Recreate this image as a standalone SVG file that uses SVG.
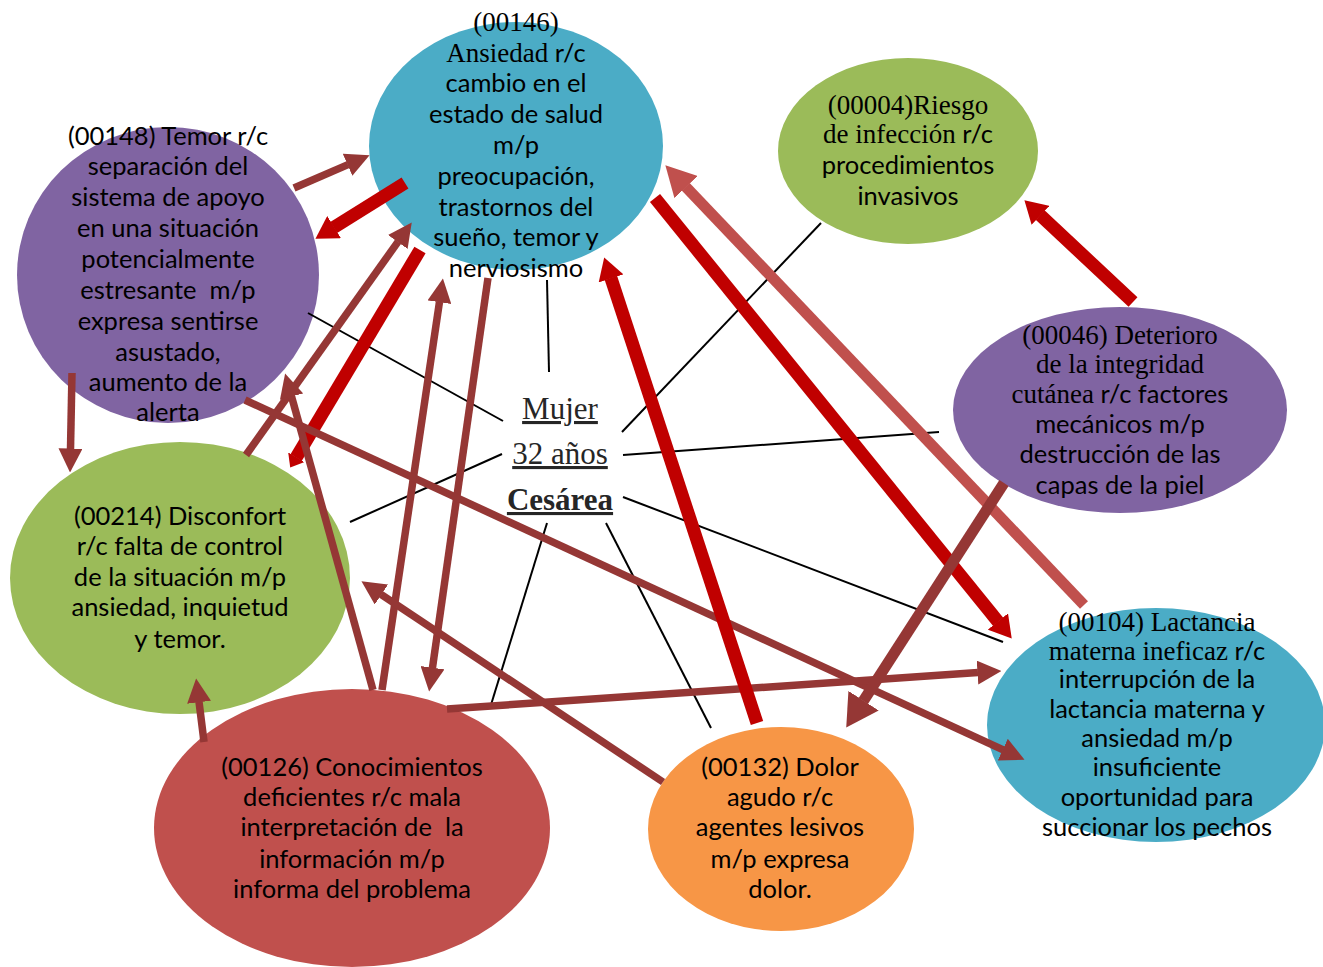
<svg xmlns="http://www.w3.org/2000/svg" width="1323" height="967" viewBox="0 0 1323 967">
<style>
.t{font-family:Lato,"Liberation Sans",sans-serif;font-size:25.5px;fill:#000;text-anchor:middle}
.sr{font-family:"Liberation Serif",serif;font-size:27px}
.c{font-family:"Liberation Serif",serif;font-size:31px;fill:#262626;text-anchor:middle;text-decoration:underline}
.br{stroke:#953735;stroke-width:7.5;fill:none;marker-end:url(#mBr)}
.rd{stroke:#C00000;stroke-width:13;fill:none;marker-end:url(#mRd)}
.rs{stroke:#C00000;stroke-width:13;fill:none;marker-end:url(#mRs)}
.lr{stroke:#C0504D;stroke-width:11;fill:none;marker-end:url(#mLr)}
.bw{stroke:#953735;stroke-width:11;fill:none;marker-end:url(#mBw)}
.bk{stroke:#000;stroke-width:2;fill:none}
</style>
<defs>
<marker id="mBr" markerUnits="userSpaceOnUse" viewBox="0 0 24 24" markerWidth="24" markerHeight="24" refX="0.5" refY="12" orient="auto"><path d="M0,0 L24,12 L0,24 z" fill="#953735"/></marker>
<marker id="mRd" markerUnits="userSpaceOnUse" viewBox="0 0 22 26" markerWidth="22" markerHeight="26" refX="0.5" refY="13" orient="auto"><path d="M0,0 L22,13 L0,26 z" fill="#C00000"/></marker>
<marker id="mRs" markerUnits="userSpaceOnUse" viewBox="0 0 12 19" markerWidth="12" markerHeight="19" refX="0.5" refY="9.5" orient="auto"><path d="M0,0 L12,9.5 L0,19 z" fill="#C00000"/></marker>
<marker id="mLr" markerUnits="userSpaceOnUse" viewBox="0 0 30 32" markerWidth="30" markerHeight="32" refX="0.5" refY="16" orient="auto"><path d="M0,0 L30,16 L0,32 z" fill="#C0504D"/></marker>
<marker id="mBw" markerUnits="userSpaceOnUse" viewBox="0 0 32 36" markerWidth="32" markerHeight="36" refX="0.5" refY="18" orient="auto"><path d="M0,0 L32,18 L0,36 z" fill="#953735"/></marker>
</defs>
<rect width="1323" height="967" fill="#fff"/>
<g id="n00146"><ellipse cx="516" cy="146" rx="147" ry="124" fill="#4BACC6"/>
<text class="t"><tspan x="516" y="31" class="sr" font-size="28">(00146)</tspan><tspan x="516" y="62"><tspan class="sr">Ansiedad</tspan> r/c</tspan><tspan x="516" y="92">cambio en el</tspan><tspan x="516" y="123">estado de salud</tspan><tspan x="516" y="154">m/p</tspan><tspan x="516" y="185">preocupación,</tspan><tspan x="516" y="216">trastornos del</tspan><tspan x="516" y="246">sueño, temor y</tspan><tspan x="516" y="277">nerviosismo</tspan></text></g>
<g id="n00148"><ellipse cx="168" cy="275" rx="151" ry="148" fill="#8064A2"/>
<text class="t" xml:space="preserve"><tspan x="168" y="145">(00148) Temor r/c</tspan><tspan x="168" y="175">separación del</tspan><tspan x="168" y="206">sistema de apoyo</tspan><tspan x="168" y="237">en una situación</tspan><tspan x="168" y="268">potencialmente</tspan><tspan x="168" y="299">estresante  m/p</tspan><tspan x="168" y="330">expresa sentirse</tspan><tspan x="168" y="361">asustado,</tspan><tspan x="168" y="391">aumento de la</tspan><tspan x="168" y="421">alerta</tspan></text></g>
<g id="n00004"><ellipse cx="908" cy="151" rx="130" ry="93" fill="#9BBB59"/>
<text class="t"><tspan x="908" y="114" class="sr">(00004)Riesgo</tspan><tspan x="908" y="143"><tspan class="sr">de infección</tspan> r/c</tspan><tspan x="908" y="174">procedimientos</tspan><tspan x="908" y="205">invasivos</tspan></text></g>
<g id="n00046"><ellipse cx="1120" cy="410" rx="167" ry="103" fill="#8064A2"/>
<text class="t"><tspan x="1120" y="344" class="sr">(00046) Deterioro</tspan><tspan x="1120" y="373" class="sr">de la integridad</tspan><tspan x="1120" y="403"><tspan class="sr">cutánea</tspan> r/c factores</tspan><tspan x="1120" y="433">mecánicos m/p</tspan><tspan x="1120" y="463">destrucción de las</tspan><tspan x="1120" y="494">capas de la piel</tspan></text></g>
<g id="n00214"><ellipse cx="180" cy="578" rx="170" ry="136" fill="#9BBB59"/>
<text class="t"><tspan x="180" y="525">(00214) Disconfort</tspan><tspan x="180" y="555">r/c falta de control</tspan><tspan x="180" y="586">de la situación m/p</tspan><tspan x="180" y="616">ansiedad, inquietud</tspan><tspan x="180" y="648">y temor.</tspan></text></g>
<g id="n00126"><ellipse cx="352" cy="828" rx="198" ry="139" fill="#C0504D"/>
<text class="t" xml:space="preserve"><tspan x="352" y="776">(00126) Conocimientos</tspan><tspan x="352" y="806">deficientes r/c mala</tspan><tspan x="352" y="836">interpretación de  la</tspan><tspan x="352" y="868">información m/p</tspan><tspan x="352" y="898">informa del problema</tspan></text></g>
<g id="n00132"><ellipse cx="781" cy="829" rx="133" ry="102" fill="#F79646"/>
<text class="t"><tspan x="780" y="776">(00132) Dolor</tspan><tspan x="780" y="806">agudo r/c</tspan><tspan x="780" y="836">agentes lesivos</tspan><tspan x="780" y="868">m/p expresa</tspan><tspan x="780" y="898">dolor.</tspan></text></g>
<g id="n00104"><ellipse cx="1156" cy="725" rx="169" ry="117" fill="#4BACC6"/>
<text class="t"><tspan x="1157" y="631" class="sr">(00104) Lactancia</tspan><tspan x="1157" y="660"><tspan class="sr">materna ineficaz</tspan> r/c</tspan><tspan x="1157" y="688">interrupción de la</tspan><tspan x="1157" y="718">lactancia materna y</tspan><tspan x="1157" y="747">ansiedad m/p</tspan><tspan x="1157" y="776">insuficiente</tspan><tspan x="1157" y="806">oportunidad para</tspan><tspan x="1157" y="836">succionar los pechos</tspan></text></g>
<g id="center"><text class="c" x="560" y="419">Mujer</text><text class="c" x="560" y="464">32 años</text><text class="c" x="560" y="510" font-weight="bold">Cesárea</text></g>
<g id="connectors">
<line class="bk" x1="308" y1="313" x2="503" y2="421"/>
<line class="bk" x1="547" y1="280" x2="549" y2="372"/>
<line class="bk" x1="622" y1="432" x2="821" y2="223"/>
<line class="bk" x1="623" y1="455" x2="939" y2="432"/>
<line class="bk" x1="502" y1="454" x2="350" y2="522"/>
<line class="bk" x1="623" y1="497" x2="1003" y2="642"/>
<line class="bk" x1="547" y1="523" x2="490" y2="708"/>
<line class="bk" x1="606" y1="523" x2="711" y2="728"/>
<line class="br" x1="294" y1="188" x2="348" y2="164.6"/>
<line class="rd" x1="405" y1="183" x2="333.7" y2="227.4"/>
<line class="rs" x1="420" y1="250" x2="296.1" y2="457.7"/>
<line class="br" x1="246" y1="455" x2="398.1" y2="241.6"/>
<line class="br" x1="373" y1="690" x2="291.4" y2="396.1"/>
<line class="br" x1="382" y1="690" x2="439.5" y2="301.7"/>
<line class="br" x1="488" y1="278" x2="432.4" y2="668.2"/>
<line class="br" x1="245" y1="400" x2="1003.2" y2="749.9"/>
<line class="br" x1="72" y1="373" x2="70.5" y2="449"/>
<line class="br" x1="204" y1="742" x2="199" y2="701.8"/>
<line class="br" x1="663" y1="782" x2="381" y2="594.3"/>
<line class="br" x1="447" y1="709" x2="978" y2="672.6"/>
<line class="rd" x1="757" y1="723" x2="610.9" y2="277.9"/>
<line class="rd" x1="655" y1="198" x2="998.2" y2="621.9"/>
<line class="lr" x1="1084" y1="605" x2="685.7" y2="186.7"/>
<line class="rd" x1="1133" y1="302" x2="1040.1" y2="215"/>
<line class="bw" x1="1004" y1="483" x2="863.3" y2="701.1"/>
</g>
</svg>
